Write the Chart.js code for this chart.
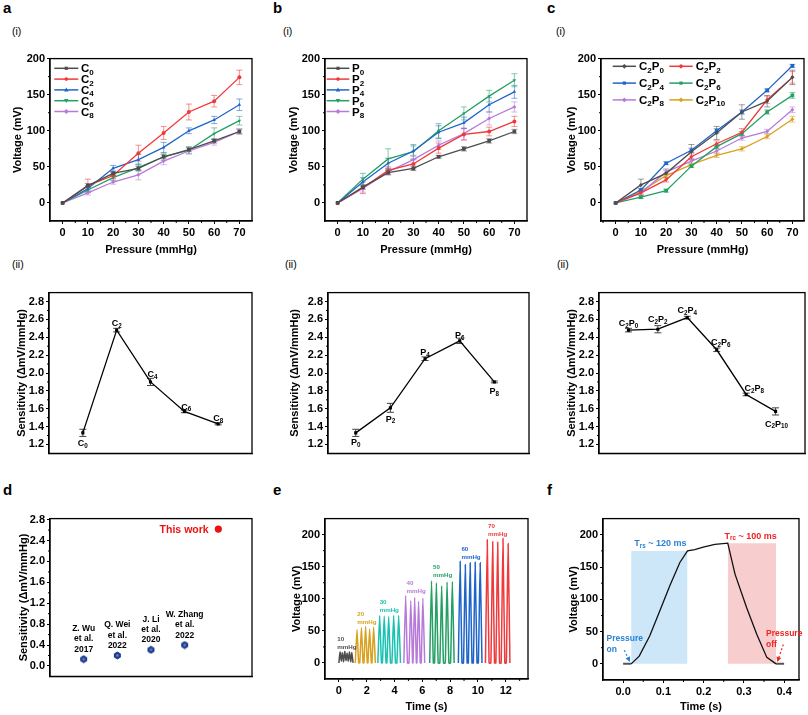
<!DOCTYPE html>
<html><head><meta charset="utf-8"><title>Sensor figure</title>
<script src="https://cdn.jsdelivr.net/npm/chart.js@4.4.1/dist/chart.umd.min.js"></script>
<style>
html,body{margin:0;padding:0;background:#fff;}
body{position:relative;width:808px;height:715px;overflow:hidden;font-family:"Liberation Sans",Arial,sans-serif;}
canvas{position:absolute;}
.t{position:absolute;white-space:nowrap;color:#000;line-height:1;}
.pl{font-weight:bold;font-size:15px;}
.rn{font-size:10.5px;}
</style></head><body>
<div class="t pl" style="left:3px;top:0px">a</div>
<div class="t pl" style="left:273px;top:0px">b</div>
<div class="t pl" style="left:547px;top:0px">c</div>
<div class="t rn" style="left:12px;top:25.6px">(i)</div>
<div class="t rn" style="left:283px;top:25.6px">(i)</div>
<div class="t rn" style="left:556px;top:25.6px">(i)</div>
<div class="t rn" style="left:12px;top:259px">(ii)</div>
<div class="t rn" style="left:285px;top:259px">(ii)</div>
<div class="t rn" style="left:557px;top:259px">(ii)</div>
<div class="t pl" style="left:3px;top:482px">d</div>
<div class="t pl" style="left:273px;top:482px">e</div>
<div class="t pl" style="left:547px;top:482px">f</div>
<script>
// ================= DATA =================
const pressure = [0, 10, 20, 30, 40, 50, 60, 70];
const pressureTicks = [0, 10, 20, 30, 40, 50, 60, 70];
const voltageTicks = [0, 50, 100, 150, 200];
const sensTicks = [1.2, 1.4, 1.6, 1.8, 2.0, 2.2, 2.4, 2.6, 2.8];
const compareTicks = [0.0, 0.4, 0.8, 1.2, 1.6, 2.0, 2.4, 2.8];
const timeTicksE = [0, 2, 4, 6, 8, 10, 12];
const timeTicksF = [0.0, 0.1, 0.2, 0.3, 0.4];

// (a)(i)
const aLabels = ['C_0', 'C_2', 'C_4', 'C_6', 'C_8'];
const aC0 = [0, 24, 41, 48, 64, 74, 86, 99];
const aC2 = [0, 24, 38, 69, 97, 126, 141, 174];
const aC4 = [0, 20, 48, 60, 77, 100, 115, 136];
const aC6 = [0, 18, 35, 49, 64, 73, 96, 114];
const aC8 = [0, 14, 29, 39, 58, 72, 84, 99];
const aC0err = [0, 3, 3, 3, 3, 3, 3, 3];
const aC2err = [0, 9, 4, 11, 9, 11, 8, 10];
const aC4err = [0, 4, 4, 7, 7, 4, 5, 8];
const aC6err = [0, 4, 4, 5, 5, 5, 8, 6];
const aC8err = [0, 3, 3, 7, 5, 4, 4, 4];

// (b)(i)
const bLabels = ['P_0', 'P_2', 'P_4', 'P_6', 'P_8'];
const bP0 = [0, 22, 42, 48, 64, 75, 86, 99];
const bP2 = [0, 21, 45, 54, 76, 95, 99, 113];
const bP4 = [0, 29, 55, 72, 98, 111, 136, 154];
const bP6 = [0, 33, 61, 71, 100, 124, 148, 170];
const bP8 = [0, 20, 43, 60, 80, 96, 117, 133];
const bP0err = [0, 3, 3, 3, 2, 3, 3, 3];
const bP2err = [0, 8, 5, 6, 7, 8, 6, 7];
const bP4err = [0, 6, 7, 7, 9, 8, 10, 9];
const bP6err = [0, 8, 14, 10, 10, 9, 8, 9];
const bP8err = [0, 5, 4, 6, 6, 8, 9, 7];

// (c)(i)
const cLabels = ['C_2P_0', 'C_2P_2', 'C_2P_4', 'C_2P_6', 'C_2P_8', 'C_2P_10'];
const cP0 = [0, 25, 41, 71, 97, 126, 141, 174];
const cP2 = [0, 14, 32, 64, 82, 98, 143, 174];
const cP4 = [0, 18, 55, 73, 100, 126, 156, 190];
const cP6 = [0, 8, 17, 51, 78, 96, 126, 149];
const cP8 = [0, 14, 43, 58, 72, 90, 99, 129];
const cP10 = [0, 16, 38, 53, 66, 75, 92, 116];
const cP0err = [0, 8, 6, 10, 9, 10, 8, 10];
const cP2err = [0, 3, 3, 4, 4, 5, 5, 8];
const cP4err = [0, 2, 2, 3, 3, 3, 2, 2];
const cP6err = [0, 2, 2, 2, 3, 3, 3, 4];
const cP8err = [0, 2, 2, 3, 3, 3, 3, 4];
const cP10err = [0, 2, 2, 2, 3, 3, 3, 4];

// (ii) sensitivities
const aSens = [1.33, 2.48, 1.90, 1.57, 1.43];
const aSensErr = [0.04, 0.02, 0.04, 0.015, 0.01];
const bSens = [1.33, 1.61, 2.16, 2.36, 1.90];
const bSensErr = [0.04, 0.05, 0.02, 0.03, 0.01];
const cSens = [2.48, 2.49, 2.62, 2.26, 1.76, 1.57];
const cSensErr = [0.02, 0.04, 0.015, 0.02, 0.015, 0.04];

// (d)
const refNames = [['Z. Wu', 'et al.', '2017'], ['Q. Wei', 'et al.', '2022'], ['J. Li', 'et al.', '2020'], ['W. Zhang', 'et al.', '2022']];
const refSens = [0.13, 0.20, 0.31, 0.40];
const thisWorkLabel = 'This work';
const thisWorkSens = 2.62;

// (e) pulse traces, time (s) / voltage (mV)
const ePressures = ['10', '20', '30', '40', '50', '60', '70'];
const e10t = [0.00, 0.08, 0.17, 0.25, 0.34, 0.42, 0.51, 0.59, 0.68, 0.76, 0.85, 0.93, 1.02];
const e10v = [0, 17, 3, 16, 2, 18, 4, 15, 3, 17, 2, 16, 0];
const e20t = [1.18, 1.30, 1.42, 1.50, 1.62, 1.74, 1.80, 1.92, 2.04, 2.09, 2.21, 2.33, 2.38, 2.50, 2.62];
const e20v = [0, 52, 0, 0, 55, 0, 0, 57, 0, 0, 53, 0, 0, 56, 0];
const e30t = [2.80, 2.93, 3.06, 3.13, 3.26, 3.39, 3.45, 3.58, 3.71, 3.81, 3.94, 4.07, 4.17, 4.30, 4.43];
const e30v = [0, 74, 0, 0, 73, 0, 0, 72, 0, 0, 74, 0, 0, 74, 0];
const e40t = [4.67, 4.80, 4.93, 5.04, 5.17, 5.30, 5.33, 5.45, 5.57, 5.61, 5.73, 5.85, 5.92, 6.04, 6.17];
const e40v = [0, 105, 0, 0, 97, 0, 0, 102, 0, 0, 96, 0, 0, 101, 0];
const e50t = [6.53, 6.66, 6.79, 6.88, 7.01, 7.14, 7.26, 7.39, 7.52, 7.65, 7.78, 7.91, 8.03, 8.16, 8.29];
const e50v = [0, 128, 0, 0, 125, 0, 0, 120, 0, 0, 126, 0, 0, 127, 0];
const e60t = [8.59, 8.72, 8.85, 8.96, 9.09, 9.22, 9.31, 9.44, 9.57, 9.67, 9.80, 9.93, 10.03, 10.16, 10.29];
const e60v = [0, 158, 0, 0, 153, 0, 0, 156, 0, 0, 157, 0, 0, 156, 0];
const e70t = [10.54, 10.67, 10.80, 10.93, 11.06, 11.19, 11.29, 11.42, 11.55, 11.67, 11.80, 11.93, 12.04, 12.17, 12.30];
const e70v = [0, 192, 0, 0, 189, 0, 0, 188, 0, 0, 194, 0, 0, 186, 0];

// (f) single response
const fTime = [0.02, 0.04, 0.066, 0.091, 0.116, 0.141, 0.16, 0.178, 0.199, 0.228, 0.26, 0.278, 0.307, 0.332, 0.357, 0.38];
const fVolt = [0, 12, 43, 82, 121, 157, 175, 177, 181, 185, 187, 139, 87, 46, 10, 0];
const fBaseOnT = [0, 0.02], fBaseOnV = [0, 0];
const fBaseOffT = [0.38, 0.40], fBaseOffV = [0, 0];
const fRiseT = [0.02, 0.16], fRiseV = [175, 175];
const fRecT = [0.26, 0.38], fRecV = [187, 187];
const fRiseText = 'T_rs ~ 120 ms';
const fRecText = 'T_rc ~ 100 ms';

// ================= HELPERS =================
const FONT = '"Liberation Sans", Arial, Helvetica, sans-serif';
Chart.defaults.font.family = FONT;
Chart.defaults.font.size = 11;
Chart.defaults.font.weight = 'bold';
Chart.defaults.color = '#000';

const COL = {gray: '#4d4d4d', red: '#f0393b', blue: '#1f65c9', green: '#24a064', purple: '#b77ad9',
  gold: '#d9a11f', cyan: '#19c2b2', navy: '#1d3f96', tblue: '#2a82d6', tred: '#f02424'};

function alpha(hex, a) {
  const n = parseInt(hex.slice(1), 16);
  return `rgba(${(n >> 16) & 255},${(n >> 8) & 255},${n & 255},${a})`;
}
const xy = (xs, ys) => xs.map((x, i) => ({x: x, y: ys[i]}));

function rich(ctx, s, x, cy, size, color, align) {
  const parts = []; let last = 0; const re = /_(\d+|[a-z]+)/g; let m;
  while ((m = re.exec(s)) !== null) {
    if (m.index > last) parts.push({t: s.slice(last, m.index), sub: false});
    parts.push({t: m[1], sub: true}); last = re.lastIndex;
  }
  if (last < s.length) parts.push({t: s.slice(last), sub: false});
  const subSize = size * 0.7;
  ctx.save();
  let w = 0;
  for (const p of parts) { ctx.font = `bold ${p.sub ? subSize : size}px ${FONT}`; p.w = ctx.measureText(p.t).width; w += p.w; }
  let cx = align === 'center' ? x - w / 2 : (align === 'right' ? x - w : x);
  const base = cy + size * 0.36;
  ctx.fillStyle = color; ctx.textAlign = 'left'; ctx.textBaseline = 'alphabetic';
  for (const p of parts) { ctx.font = `bold ${p.sub ? subSize : size}px ${FONT}`; ctx.fillText(p.t, cx, p.sub ? base + size * 0.2 : base); cx += p.w; }
  ctx.restore();
}

function drawMarker(ctx, style, x, y, r, color) {
  ctx.save(); ctx.fillStyle = color; ctx.beginPath();
  if (style === 'rect') ctx.rect(x - r * 0.8, y - r * 0.8, r * 1.6, r * 1.6);
  else if (style === 'circle') ctx.arc(x, y, r * 0.9, 0, Math.PI * 2);
  else if (style === 'triangle') { ctx.moveTo(x, y - r * 1.2); ctx.lineTo(x + r * 1.1, y + r * 0.8); ctx.lineTo(x - r * 1.1, y + r * 0.8); ctx.closePath(); }
  else if (style === 'triangleDown') { ctx.moveTo(x, y + r * 1.2); ctx.lineTo(x + r * 1.1, y - r * 0.8); ctx.lineTo(x - r * 1.1, y - r * 0.8); ctx.closePath(); }
  else { ctx.moveTo(x, y - r * 1.2); ctx.lineTo(x + r * 1.2, y); ctx.lineTo(x, y + r * 1.2); ctx.lineTo(x - r * 1.2, y); ctx.closePath(); }
  ctx.fill(); ctx.restore();
}

function hexCanvas(r, fill, stroke) {
  const c = document.createElement('canvas'); const s = Math.ceil(2 * r + 2);
  c.width = s; c.height = s; const g = c.getContext('2d');
  g.beginPath();
  for (let k = 0; k < 6; k++) { const an = Math.PI / 6 + k * Math.PI / 3; const px = s / 2 + r * Math.cos(an), py = s / 2 + r * Math.sin(an); if (k) g.lineTo(px, py); else g.moveTo(px, py); }
  g.closePath(); g.fillStyle = fill; g.fill(); g.strokeStyle = stroke; g.lineWidth = 1; g.stroke();
  g.fillStyle = 'rgba(150,175,230,0.8)'; g.fillRect(s / 2 - 1, s / 2 - 1, 2, 2);
  return c;
}

function extraPlugin(ex) {
  return {
    id: 'extra',
    beforeDatasetsDraw(chart) {
      const ctx = chart.ctx;
      chart.data.datasets.forEach((ds, i) => {
        if (!ds.errors) return;
        const meta = chart.getDatasetMeta(i), ys = chart.scales.y;
        ctx.save(); ctx.strokeStyle = ds.errColor || ds.borderColor; ctx.lineWidth = 1;
        meta.data.forEach((pt, j) => {
          const e = ds.errors[j]; if (!e) return;
          const v = ds.data[j].y;
          const y1 = ys.getPixelForValue(v + e), y2 = ys.getPixelForValue(v - e);
          const cw = ex.cap || 3;
          ctx.beginPath(); ctx.moveTo(pt.x, y1); ctx.lineTo(pt.x, y2);
          ctx.moveTo(pt.x - cw, y1); ctx.lineTo(pt.x + cw, y1);
          ctx.moveTo(pt.x - cw, y2); ctx.lineTo(pt.x + cw, y2); ctx.stroke();
        });
        ctx.restore();
      });
    },
    afterDraw(chart) {
      const ctx = chart.ctx, a = chart.chartArea;
      ctx.save(); ctx.strokeStyle = '#000'; ctx.lineWidth = 1.3;
      ctx.strokeRect(a.left, a.top, a.right - a.left, a.bottom - a.top); ctx.restore();
      if (ex.minor) {
        for (const ax of ['x', 'y']) {
          const step = ex.minor[ax]; if (!step) continue;
          const s = chart.scales[ax]; const majors = s.ticks.map(t => t.value);
          ctx.save(); ctx.strokeStyle = '#000'; ctx.lineWidth = 1; ctx.beginPath();
          const n0 = Math.ceil(s.min / step - 1e-9), n1 = Math.floor(s.max / step + 1e-9);
          for (let n = n0; n <= n1; n++) {
            const v = n * step;
            if (majors.some(mv => Math.abs(mv - v) < step * 1e-3)) continue;
            if (Math.abs(v - s.min) < step * 1e-3 || Math.abs(v - s.max) < step * 1e-3) continue;
            const p = s.getPixelForValue(v);
            if (ax === 'x') { ctx.moveTo(p, a.bottom); ctx.lineTo(p, a.bottom + 2); }
            else { ctx.moveTo(a.left, p); ctx.lineTo(a.left - 2, p); }
          }
          ctx.stroke(); ctx.restore();
        }
      }
      if (ex.legend) {
        const L = ex.legend;
        L.items.forEach(it => {
          const ds = chart.data.datasets[it.ds]; const c = L.cols[it.col];
          const y = a.top + L.y0 + it.row * L.dy;
          ctx.save(); ctx.strokeStyle = ds.borderColor; ctx.lineWidth = 1.5;
          ctx.beginPath(); ctx.moveTo(a.left + c.x0, y); ctx.lineTo(a.left + c.x1, y); ctx.stroke(); ctx.restore();
          drawMarker(ctx, ds.marker, a.left + (c.x0 + c.x1) / 2, y, 2, ds.borderColor);
          rich(ctx, ds.label, a.left + c.tx, y, L.size, '#000', 'left');
        });
      }
      if (ex.ptlabels) {
        const P = ex.ptlabels; const meta = chart.getDatasetMeta(P.ds);
        P.items.forEach((it, j) => {
          const pt = meta.data[j];
          rich(ctx, it.text, pt.x + it.dx, pt.y + it.dy, P.size, P.color || '#000', 'center');
        });
      }
      (ex.texts || []).forEach(tx => {
        const xs = chart.scales.x, ys = chart.scales.y;
        const px = xs.getPixelForValue(tx.x) + (tx.dx || 0), py = ys.getPixelForValue(tx.y) + (tx.dy || 0);
        const lines = tx.lines || [tx.text];
        lines.forEach((ln, k) => rich(ctx, ln, px, py + k * (tx.gap || 0), tx.size, tx.color, tx.align || 'left'));
      });
      (ex.arrows || []).forEach(ar => {
        const xs = chart.scales.x, ys = chart.scales.y;
        const x0 = xs.getPixelForValue(ar.x0), y0 = ys.getPixelForValue(ar.y0);
        const x1 = xs.getPixelForValue(ar.x1), y1 = ys.getPixelForValue(ar.y1);
        const an = Math.atan2(y1 - y0, x1 - x0);
        ctx.save(); ctx.strokeStyle = ar.color; ctx.fillStyle = ar.color; ctx.lineWidth = 1.2;
        ctx.setLineDash([2, 2]); ctx.beginPath(); ctx.moveTo(x0, y0);
        ctx.lineTo(x1 - 4 * Math.cos(an), y1 - 4 * Math.sin(an)); ctx.stroke(); ctx.setLineDash([]);
        ctx.beginPath(); ctx.moveTo(x1, y1);
        ctx.lineTo(x1 - 5 * Math.cos(an) + 2.5 * Math.sin(an), y1 - 5 * Math.sin(an) - 2.5 * Math.cos(an));
        ctx.lineTo(x1 - 5 * Math.cos(an) - 2.5 * Math.sin(an), y1 - 5 * Math.sin(an) + 2.5 * Math.cos(an));
        ctx.closePath(); ctx.fill(); ctx.restore();
      });
    }
  };
}

function makeChart(spec) {
  const {l, t, r, b} = spec.area;
  const lh = 13.2;
  const cl = Math.round(spec.yTitleX - lh / 2);
  const ct = Math.round(t - 8);
  const cr = Math.min(808, Math.round(r + 10));
  const cb = spec.xTitleY ? Math.round(spec.xTitleY + lh / 2) : Math.round(b + 4);
  const cv = document.createElement('canvas');
  cv.width = cr - cl; cv.height = cb - ct;
  cv.style.left = cl + 'px'; cv.style.top = ct + 'px';
  cv.style.width = (cr - cl) + 'px'; cv.style.height = (cb - ct) + 'px';
  document.body.appendChild(cv);
  const YW = l - cl, XH = cb - b, PT = t - ct, PR = cr - r;
  const xOpt = {
    type: 'linear', min: spec.xRange[0], max: spec.xRange[1],
    afterFit: s => { s.height = XH; },
    ticks: {display: !!spec.xTicks, autoSkip: false, maxRotation: 0, minRotation: 0, padding: 2,
      callback: spec.xFmt || (v => String(v)), font: {size: 11, weight: 'bold'}, color: '#000'},
    grid: {display: !!spec.xTicks, drawOnChartArea: false, drawTicks: true, tickLength: 3, color: '#000', lineWidth: 1},
    border: {display: true, color: '#000', width: 1.3},
    title: {display: !!spec.xTitle, text: spec.xTitle || '', padding: 0, font: {size: 11, weight: 'bold'}, color: '#000'}
  };
  if (spec.xTicks) xOpt.afterBuildTicks = s => { s.ticks = spec.xTicks.map(v => ({value: v})); };
  const yOpt = {
    type: 'linear', min: spec.yRange[0], max: spec.yRange[1],
    afterBuildTicks: s => { s.ticks = spec.yTicks.map(v => ({value: v})); },
    afterFit: s => { s.width = YW; },
    ticks: {display: true, autoSkip: false, padding: 2, callback: spec.yFmt || (v => String(v)),
      font: {size: 11, weight: 'bold'}, color: '#000'},
    grid: {display: true, drawOnChartArea: false, drawTicks: true, tickLength: 3, color: '#000', lineWidth: 1},
    border: {display: true, color: '#000', width: 1.3},
    title: {display: true, text: spec.yTitle, padding: 0, font: {size: 11, weight: 'bold'}, color: '#000'}
  };
  return new Chart(cv.getContext('2d'), {
    type: 'line',
    data: {datasets: spec.datasets},
    options: {
      responsive: false, animation: false, events: [], devicePixelRatio: 1,
      layout: {padding: {left: 0, top: PT, right: PR, bottom: 0}, autoPadding: false},
      plugins: {legend: {display: false}, tooltip: {enabled: false}},
      scales: {x: xOpt, y: yOpt}
    },
    plugins: [extraPlugin(spec.extra || {})]
  });
}

function seriesDS(label, ys, errs, color, marker) {
  return {
    label: label, data: xy(pressure, ys), errors: errs, errColor: alpha(color, 0.55),
    borderColor: color, backgroundColor: color, borderWidth: 1.3, tension: 0,
    pointStyle: marker === 'triangleDown' ? 'triangle' : marker,
    rotation: marker === 'triangleDown' ? 180 : 0,
    pointRadius: marker === 'rect' ? 2.6 : 2, pointBorderWidth: 0, marker: marker
  };
}
function sensDS(vals, errs) {
  return {data: vals.map((v, i) => ({x: i, y: v})), errors: errs, errColor: '#444',
    borderColor: '#000', backgroundColor: '#000', borderWidth: 1.3, pointStyle: 'rect', pointRadius: 2.2, pointBorderWidth: 0};
}

const VT = 'Voltage (mV)', PT_ = 'Pressure (mmHg)', ST = 'Sensitivity (\u0394mV/mmHg)';

// ---------- (a)(i) ----------
makeChart({
  area: {l: 50, t: 58, r: 252, b: 221}, yTitleX: 17.3, xTitleY: 250,
  xRange: [-5, 75], yRange: [-25, 200], xTicks: pressureTicks, yTicks: voltageTicks,
  xTitle: PT_, yTitle: VT,
  datasets: [
    seriesDS(aLabels[0], aC0, aC0err, COL.gray, 'rect'),
    seriesDS(aLabels[1], aC2, aC2err, COL.red, 'circle'),
    seriesDS(aLabels[2], aC4, aC4err, COL.blue, 'triangle'),
    seriesDS(aLabels[3], aC6, aC6err, COL.green, 'triangleDown'),
    seriesDS(aLabels[4], aC8, aC8err, COL.purple, 'rectRot')
  ],
  extra: {minor: {x: 5, y: 25},
    legend: {cols: [{x0: 4.3, x1: 28.3, tx: 31}], y0: 9.7, dy: 10.8, size: 11.5,
      items: [0, 1, 2, 3, 4].map(i => ({ds: i, col: 0, row: i}))}}
});
// ---------- (b)(i) ----------
makeChart({
  area: {l: 325, t: 58, r: 527, b: 221}, yTitleX: 293.3, xTitleY: 250,
  xRange: [-5, 75], yRange: [-25, 200], xTicks: pressureTicks, yTicks: voltageTicks,
  xTitle: PT_, yTitle: VT,
  datasets: [
    seriesDS(bLabels[0], bP0, bP0err, COL.gray, 'rect'),
    seriesDS(bLabels[1], bP2, bP2err, COL.red, 'circle'),
    seriesDS(bLabels[2], bP4, bP4err, COL.blue, 'triangle'),
    seriesDS(bLabels[3], bP6, bP6err, COL.green, 'triangleDown'),
    seriesDS(bLabels[4], bP8, bP8err, COL.purple, 'rectRot')
  ],
  extra: {minor: {x: 5, y: 25},
    legend: {cols: [{x0: 1.7, x1: 24.3, tx: 27}], y0: 9.7, dy: 10.8, size: 11.5,
      items: [0, 1, 2, 3, 4].map(i => ({ds: i, col: 0, row: i}))}}
});
// ---------- (c)(i) ----------
makeChart({
  area: {l: 601, t: 58, r: 804, b: 221}, yTitleX: 571.7, xTitleY: 250,
  xRange: [-5.8, 74.6], yRange: [-25, 200], xTicks: pressureTicks, yTicks: voltageTicks,
  xTitle: PT_, yTitle: VT,
  datasets: [
    seriesDS(cLabels[0], cP0, cP0err, COL.gray, 'rectRot'),
    seriesDS(cLabels[1], cP2, cP2err, COL.red, 'rectRot'),
    seriesDS(cLabels[2], cP4, cP4err, COL.blue, 'rect'),
    seriesDS(cLabels[3], cP6, cP6err, COL.green, 'rect'),
    seriesDS(cLabels[4], cP8, cP8err, COL.purple, 'rectRot'),
    seriesDS(cLabels[5], cP10, cP10err, COL.gold, 'rectRot')
  ],
  extra: {minor: {x: 5, y: 25},
    legend: {cols: [{x0: 11.7, x1: 35, tx: 38}, {x0: 68.3, x1: 91.7, tx: 94.7}], y0: 7.7, dy: 16.8, size: 11.5,
      items: [0, 1, 2, 3, 4, 5].map(i => ({ds: i, col: i % 2, row: Math.floor(i / 2)}))}}
});
// ---------- (a)(ii) ----------
makeChart({
  area: {l: 49, t: 292, r: 252, b: 458}, yTitleX: 21.7,
  xRange: [-1, 5], yRange: [1.1, 2.9], yTicks: sensTicks, yFmt: v => v.toFixed(1), yTitle: ST,
  datasets: [sensDS(aSens, aSensErr)],
  extra: {minor: {y: 0.1}, cap: 3.5,
    ptlabels: {ds: 0, size: 9, items: [
      {text: aLabels[0], dx: 0, dy: 10}, {text: aLabels[1], dx: 0, dy: -7.5}, {text: aLabels[2], dx: 2, dy: -8},
      {text: aLabels[3], dx: 2, dy: -5}, {text: aLabels[4], dx: 0, dy: -6}]}}
});
// ---------- (b)(ii) ----------
makeChart({
  area: {l: 328, t: 292, r: 529, b: 458}, yTitleX: 295,
  xRange: [-0.8, 5], yRange: [1.1, 2.9], yTicks: sensTicks, yFmt: v => v.toFixed(1), yTitle: ST,
  datasets: [sensDS(bSens, bSensErr)],
  extra: {minor: {y: 0.1}, cap: 3.5,
    ptlabels: {ds: 0, size: 9, items: [
      {text: bLabels[0], dx: 0, dy: 9}, {text: bLabels[1], dx: 0, dy: 10.5}, {text: bLabels[2], dx: 0, dy: -6.5},
      {text: bLabels[3], dx: 0, dy: -6}, {text: bLabels[4], dx: 0, dy: 8.6}]}}
});
// ---------- (c)(ii) ----------
makeChart({
  area: {l: 599, t: 292, r: 805, b: 458}, yTitleX: 571.7,
  xRange: [-1, 6], yRange: [1.1, 2.9], yTicks: sensTicks, yFmt: v => v.toFixed(1), yTitle: ST,
  datasets: [sensDS(cSens, cSensErr)],
  extra: {minor: {y: 0.1}, cap: 3.5,
    ptlabels: {ds: 0, size: 9, items: [
      {text: cLabels[0], dx: 0, dy: -7.6}, {text: cLabels[1], dx: 0, dy: -10}, {text: cLabels[2], dx: 0, dy: -8},
      {text: cLabels[3], dx: 4, dy: -8}, {text: cLabels[4], dx: 8, dy: -6.6}, {text: cLabels[5], dx: 1, dy: 12}]}}
});
// ---------- (d) ----------
const hexImg = hexCanvas(3.4, COL.navy, '#15327a');
makeChart({
  area: {l: 50, t: 518, r: 252, b: 681}, yTitleX: 23.3,
  xRange: [-1, 5], yRange: [-0.2, 2.82], yTicks: compareTicks, yFmt: v => v.toFixed(1), yTitle: ST,
  datasets: [
    {data: refSens.map((v, i) => ({x: i, y: v})), showLine: false, pointStyle: hexImg, pointRadius: 4,
      borderColor: COL.navy, backgroundColor: COL.navy},
    {data: [{x: refSens.length, y: thisWorkSens}], showLine: false, pointStyle: 'circle', pointRadius: 3.6,
      borderColor: '#ee1111', backgroundColor: '#ee1111', pointBorderWidth: 0}
  ],
  extra: {minor: {y: 0.2},
    texts: refNames.map((lines, i) => ({x: i, y: refSens[i], dy: -10.5 - (lines.length - 1) * 10.3,
      lines: lines, gap: 10.3, size: 8.5, color: '#000', align: 'center'}))
      .concat([{x: refSens.length, y: thisWorkSens, dx: -9.7, text: thisWorkLabel, size: 10.5, color: '#ee1111', align: 'right'}])}
});
// ---------- (e) ----------
const eTraces = [[e10t, e10v, COL.gray], [e20t, e20v, COL.gold], [e30t, e30v, COL.cyan], [e40t, e40v, COL.purple],
  [e50t, e50v, COL.green], [e60t, e60v, COL.blue], [e70t, e70v, COL.red]];
const eLabelPos = [[-0.12, 37], [1.32, 77], [2.93, 95.7], [4.87, 125.6], [6.77, 149.3], [8.81, 177.8], [10.73, 214]];
makeChart({
  area: {l: 325, t: 518, r: 528, b: 679}, yTitleX: 296.7, xTitleY: 707.3,
  xRange: [-1, 13.6], yRange: [-25, 225], xTicks: timeTicksE, yTicks: voltageTicks,
  xTitle: 'Time (s)', yTitle: VT,
  datasets: eTraces.map(tr => ({data: xy(tr[0], tr[1]), borderColor: tr[2], borderWidth: 1.5, pointRadius: 0, tension: 0.15})),
  extra: {minor: {x: 1, y: 25},
    texts: ePressures.map((p, i) => ({x: eLabelPos[i][0], y: eLabelPos[i][1], lines: [p, 'mmHg'], gap: 8,
      size: 6.2, color: eTraces[i][2], align: 'left'}))}
});
// ---------- (f) ----------
makeChart({
  area: {l: 603, t: 518, r: 799, b: 680}, yTitleX: 573.3, xTitleY: 707,
  xRange: [-0.05, 0.437], yRange: [-25, 225], xTicks: timeTicksF, yTicks: voltageTicks,
  xFmt: v => v.toFixed(1), xTitle: 'Time (s)', yTitle: VT,
  datasets: [
    {data: xy(fTime, fVolt), borderColor: '#111', borderWidth: 1.3, pointRadius: 0, tension: 0},
    {data: xy(fBaseOnT, fBaseOnV), borderColor: '#555', borderWidth: 2, pointRadius: 0},
    {data: xy(fBaseOffT, fBaseOffV), borderColor: '#555', borderWidth: 2, pointRadius: 0},
    {data: xy(fRiseT, fRiseV), borderWidth: 0, borderColor: 'rgba(0,0,0,0)', backgroundColor: '#cde6f8', fill: 'origin', pointRadius: 0},
    {data: xy(fRecT, fRecV), borderWidth: 0, borderColor: 'rgba(0,0,0,0)', backgroundColor: '#f8cdcd', fill: 'origin', pointRadius: 0}
  ],
  extra: {minor: {x: 0.05, y: 25},
    texts: [
      {x: 0.0926, y: 187, text: fRiseText, size: 9, color: COL.tblue, align: 'center'},
      {x: 0.317, y: 199, text: fRecText, size: 9, color: COL.tred, align: 'center'},
      {x: -0.041, y: 39.6, lines: ['Pressure', 'on'], gap: 10.4, size: 8.5, color: COL.tblue, align: 'left'},
      {x: 0.355, y: 48, lines: ['Pressure', 'off'], gap: 10.6, size: 8.5, color: COL.tred, align: 'left'}
    ],
    arrows: [
      {x0: 0.003, y0: 21, x1: 0.017, y1: 3, color: COL.tblue},
      {x0: 0.398, y0: 30, x1: 0.383, y1: 3, color: COL.tred}
    ]}
});
</script>
</body></html>
